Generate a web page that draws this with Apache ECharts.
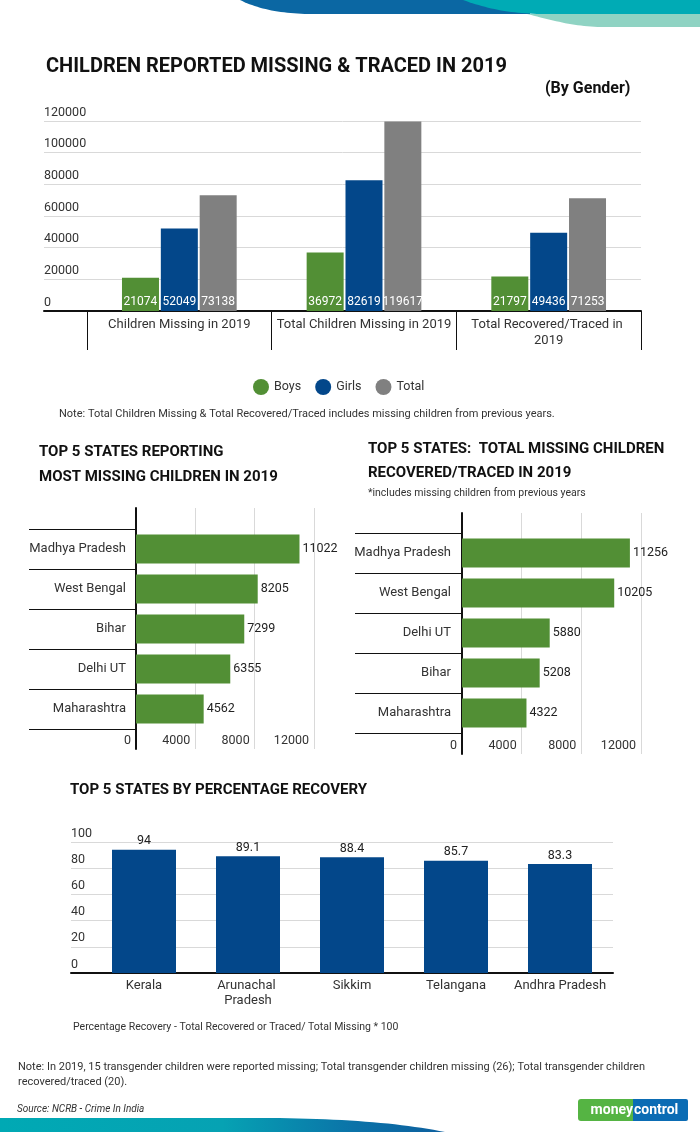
<!DOCTYPE html>
<html><head><meta charset="utf-8">
<script src="https://cdn.jsdelivr.net/npm/echarts@6/dist/echarts.min.js"></script>
<style>html,body{margin:0;padding:0;background:#fff}#c{width:700px;height:1132px}</style>
</head><body><div id="c"></div>
<script>
// ---------- DATA ----------
const genderCategories = ['Children Missing in 2019', 'Total Children Missing in 2019', 'Total Recovered/Traced in 2019'];
const boys = [21074, 36972, 21797];
const girls = [52049, 82619, 49436];
const totals = [73138, 119617, 71253];
const genderTicks = [0, 20000, 40000, 60000, 80000, 100000, 120000];

const missingStates = ['Madhya Pradesh', 'West Bengal', 'Bihar', 'Delhi UT', 'Maharashtra'];
const missingValues = [11022, 8205, 7299, 6355, 4562];
const tracedStates = ['Madhya Pradesh', 'West Bengal', 'Delhi UT', 'Bihar', 'Maharashtra'];
const tracedValues = [11256, 10205, 5880, 5208, 4322];
const stateTicks = [0, 4000, 8000, 12000];

const recoveryStates = ['Kerala', 'Arunachal Pradesh', 'Sikkim', 'Telangana', 'Andhra Pradesh'];
const recoveryValues = [94, 89.1, 88.4, 85.7, 83.3];
const recoveryTicks = [0, 20, 40, 60, 80, 100];

// ---------- STYLE ----------
const FONT = 'Roboto, "Noto Sans", sans-serif';
const GREEN = '#528f35', BLUE = '#03478a', GRAY = '#808080';
const GRID_LINE = '#d9d9d9', TXT = '#333', DARK = '#111';
const plain = v => String(v);

const tmin = t => t[0], tmax = t => t[t.length - 1], tint = t => t[1] - t[0];

function txt(text, x, y, size, weight, extra) {
  return { type: 'text', silent: true, style: Object.assign({
    text, x, y, fill: DARK, fontSize: size, fontWeight: weight || 'normal',
    fontFamily: FONT, verticalAlign: 'middle', align: 'left' }, extra || {}) };
}
// decorative curved band: start point, bezier to end, then closing corner points
function curveShape(p0, c1, c2, p1, tail, fill) {
  const pts = [];
  for (let i = 0; i <= 24; i++) {
    const t = i / 24, u = 1 - t;
    pts.push([u*u*u*p0[0] + 3*u*u*t*c1[0] + 3*u*t*t*c2[0] + t*t*t*p1[0],
              u*u*u*p0[1] + 3*u*u*t*c1[1] + 3*u*t*t*c2[1] + t*t*t*p1[1]]);
  }
  return { type: 'polygon', silent: true, shape: { points: pts.concat(tail) }, style: { fill } };
}

const chart = echarts.init(document.getElementById('c'), null, { renderer: 'canvas' });

const hiddenValue = (grid, t) => ({ gridIndex: grid, type: 'value', min: tmin(t), max: tmax(t), show: false });
const blackLineValue = (grid) => ({ gridIndex: grid, type: 'value', min: 0, max: 1,
  axisLine: { show: true, onZero: false, lineStyle: { color: DARK, width: 2 } },
  axisTick: { show: false }, axisLabel: { show: false }, splitLine: { show: false } });

const option = {
  animation: false,
  textStyle: { fontFamily: FONT },
  grid: [
    { left: 44, top: 121, width: 597, height: 190 },   // 0 chart1 frame
    { left: 87, top: 121, width: 554, height: 190 },   // 1 chart1 bars
    { left: 136, top: 508, width: 178, height: 241 },  // 2 chart2 frame
    { left: 136, top: 529, width: 178, height: 200 },  // 3 chart2 bars
    { left: 462, top: 513, width: 179, height: 241 },  // 4 chart3 frame
    { left: 462, top: 533, width: 179, height: 200 },  // 5 chart3 bars
    { left: 71, top: 842, width: 542, height: 131 },   // 6 chart4 frame
    { left: 92, top: 842, width: 520, height: 131 }    // 7 chart4 bars
  ],
  legend: {
    data: ['Boys', 'Girls', 'Total'], icon: 'circle', itemWidth: 16, itemHeight: 16,
    left: 248, top: 374, itemGap: 14, textStyle: { fontSize: 12.5, color: TXT, fontFamily: FONT }
  },
  xAxis: [
    blackLineValue(0),
    { gridIndex: 1, type: 'category', data: genderCategories,
      axisLine: { show: false },
      axisTick: { show: true, length: 39, lineStyle: { color: DARK, width: 1 } },
      axisLabel: { color: TXT, fontSize: 13, margin: 6, width: 178, overflow: 'break', lineHeight: 16, interval: 0 } },
    { gridIndex: 2, type: 'value', min: tmin(stateTicks), max: tmax(stateTicks), interval: tint(stateTicks),
      axisLine: { show: false }, axisTick: { show: false },
      axisLabel: { inside: true, align: 'right', padding: [0, 5, 0, 0], margin: 2, color: TXT, fontSize: 12.5, formatter: plain },
      splitLine: { show: true, lineStyle: { color: GRID_LINE } } },
    hiddenValue(3, stateTicks),
    { gridIndex: 4, type: 'value', min: tmin(stateTicks), max: tmax(stateTicks), interval: tint(stateTicks),
      axisLine: { show: false }, axisTick: { show: false },
      axisLabel: { inside: true, align: 'right', padding: [0, 5, 0, 0], margin: 2, color: TXT, fontSize: 12.5, formatter: plain },
      splitLine: { show: true, lineStyle: { color: GRID_LINE } } },
    hiddenValue(5, stateTicks),
    blackLineValue(6),
    { gridIndex: 7, type: 'category', data: recoveryStates,
      axisLine: { show: false }, axisTick: { show: false },
      axisLabel: { color: TXT, fontSize: 13, margin: 5, width: 100, overflow: 'break', lineHeight: 15, interval: 0 } }
  ],
  yAxis: [
    { gridIndex: 0, type: 'value', min: tmin(genderTicks), max: tmax(genderTicks), interval: tint(genderTicks),
      axisLine: { show: false }, axisTick: { show: false },
      axisLabel: { inside: true, verticalAlign: 'bottom', margin: 0, padding: [0, 0, 2, 0], color: TXT, fontSize: 12.5, formatter: plain },
      splitLine: { show: true, lineStyle: { color: GRID_LINE } } },
    hiddenValue(1, genderTicks),
    blackLineValue(2),
    { gridIndex: 3, type: 'category', data: missingStates, inverse: true,
      axisLine: { show: false },
      axisTick: { show: true, length: 107, lineStyle: { color: DARK, width: 1 } },
      axisLabel: { margin: 10, fontSize: 13, color: TXT } },
    blackLineValue(4),
    { gridIndex: 5, type: 'category', data: tracedStates, inverse: true,
      axisLine: { show: false },
      axisTick: { show: true, length: 107, lineStyle: { color: DARK, width: 1 } },
      axisLabel: { margin: 11, fontSize: 13, color: TXT } },
    { gridIndex: 6, type: 'value', min: tmin(recoveryTicks), max: tmax(recoveryTicks), interval: tint(recoveryTicks),
      axisLine: { show: false }, axisTick: { show: false },
      axisLabel: { inside: true, verticalAlign: 'bottom', margin: 0, padding: [0, 0, 2, 0], color: TXT, fontSize: 12.5, formatter: plain },
      splitLine: { show: true, lineStyle: { color: GRID_LINE } } },
    hiddenValue(7, recoveryTicks)
  ],
  series: [
    { name: 'Boys', type: 'bar', xAxisIndex: 1, yAxisIndex: 1, data: boys, barWidth: 37, barGap: '5%',
      itemStyle: { color: GREEN },
      label: { show: true, position: 'insideBottom', distance: 3, color: '#fff', fontSize: 12 } },
    { name: 'Girls', type: 'bar', xAxisIndex: 1, yAxisIndex: 1, data: girls, barWidth: 37, barGap: '5%',
      itemStyle: { color: BLUE },
      label: { show: true, position: 'insideBottom', distance: 3, color: '#fff', fontSize: 12 } },
    { name: 'Total', type: 'bar', xAxisIndex: 1, yAxisIndex: 1, data: totals, barWidth: 37, barGap: '5%',
      itemStyle: { color: GRAY },
      label: { show: true, position: 'insideBottom', distance: 3, color: '#fff', fontSize: 12 } },
    { type: 'bar', xAxisIndex: 3, yAxisIndex: 3, data: missingValues, barWidth: 29,
      itemStyle: { color: GREEN },
      label: { show: true, position: 'right', distance: 3, color: '#222', fontSize: 12.5 } },
    { type: 'bar', xAxisIndex: 5, yAxisIndex: 5, data: tracedValues, barWidth: 29,
      itemStyle: { color: GREEN },
      label: { show: true, position: 'right', distance: 3, color: '#222', fontSize: 12.5 } },
    { type: 'bar', xAxisIndex: 7, yAxisIndex: 7, data: recoveryValues, barWidth: 64,
      itemStyle: { color: BLUE },
      label: { show: true, position: 'top', distance: 2, color: '#222', fontSize: 12.5 } }
  ],
  graphic: [
    // top decoration
    curveShape([240, 0], [258, 9], [282, 14], [312, 14], [[530, 14], [530, 0]], '#0b67a3'),
    curveShape([527, 14], [555, 21], [575, 27], [605, 27], [[700, 27], [700, 14]], '#8fd3c3'),
    curveShape([463, 0], [488, 9], [512, 14], [545, 14], [[700, 14], [700, 0]], '#00abb5'),
    // bottom decoration
    Object.assign(curveShape([260, 1118], [340, 1118], [400, 1123], [445, 1132], [[0, 1132], [0, 1118]], null), {
      style: { fill: { type: 'linear', x: 0, y: 0, x2: 1, y2: 0, colorStops: [
        { offset: 0, color: '#00a9b4' }, { offset: 0.5, color: '#06a2b3' }, { offset: 0.8, color: '#0b72a8' }, { offset: 1, color: '#0d5f9e' }] } } }),
    // titles and notes
    txt('CHILDREN REPORTED MISSING & TRACED IN 2019', 46, 67, 20, 'bold'),
    txt('(By Gender)', 545, 89, 16, 'bold'),
    txt('Note: Total Children Missing & Total Recovered/Traced includes missing children from previous years.', 59, 414, 11, 'normal', { fill: TXT }),
    txt('TOP 5 STATES REPORTING', 39, 452, 15, 'bold'),
    txt('MOST MISSING CHILDREN IN 2019', 39, 477, 15, 'bold'),
    txt('TOP 5 STATES:  TOTAL MISSING CHILDREN', 368, 449, 15, 'bold'),
    txt('RECOVERED/TRACED IN 2019', 368, 473, 15, 'bold'),
    txt('*includes missing children from previous years', 368, 493, 10.5, 'normal', { fill: TXT }),
    txt('TOP 5 STATES BY PERCENTAGE RECOVERY', 70, 790, 15, 'bold'),
    txt('Percentage Recovery - Total Recovered or Traced/ Total Missing * 100', 73, 1027, 10.5, 'normal', { fill: TXT }),
    txt('Note: In 2019, 15 transgender children were reported missing; Total transgender children missing (26); Total transgender children', 18, 1067, 11, 'normal', { fill: TXT }),
    txt('recovered/traced (20).', 18, 1082, 11, 'normal', { fill: TXT }),
    txt('Source: NCRB - Crime In India', 17, 1109, 10, 'normal', { fill: TXT, fontStyle: 'italic' }),
    // logo
    { type: 'rect', silent: true, shape: { x: 578, y: 1099, width: 56, height: 22, r: [3, 0, 0, 3] }, style: { fill: '#55b443' } },
    { type: 'rect', silent: true, shape: { x: 633, y: 1099, width: 55, height: 22, r: [0, 2, 2, 0] }, style: { fill: '#0b6cb4' } },
    txt('money', 633, 1110, 14, 'bold', { fill: '#fff', align: 'right' }),
    txt('control', 634, 1110, 14, 'bold', { fill: '#fff', align: 'left' })
  ]
};
chart.setOption(option);
</script>
</body></html>
